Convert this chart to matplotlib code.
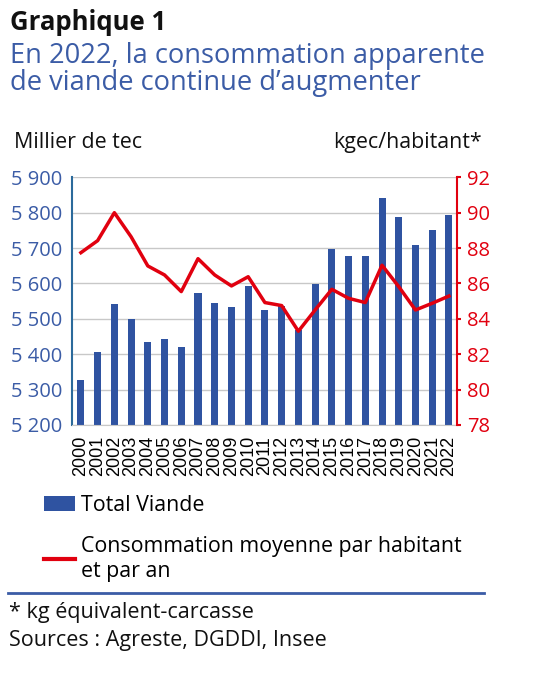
import matplotlib
matplotlib.use('Agg')
import matplotlib.pyplot as plt
from matplotlib.lines import Line2D
from matplotlib.patches import Patch

years = [str(y) for y in range(2000, 2023)]
total_viande = [5327, 5406, 5542, 5500, 5435, 5443, 5421, 5573, 5545, 5534,
                5593, 5525, 5536, 5468, 5599, 5697, 5678, 5678, 5842, 5788,
                5709, 5751, 5794]
conso_hab = [87.74, 88.42, 90.0, 88.64, 86.99, 86.48, 85.54, 87.40, 86.48, 85.86,
             86.38, 84.92, 84.75, 83.3, 84.5, 85.67, 85.16, 84.92, 87.03, 85.82,
             84.5, 84.88, 85.29]
left_ticks = [5200, 5300, 5400, 5500, 5600, 5700, 5800, 5900]
right_ticks = [78, 80, 82, 84, 86, 88, 90, 92]

blue = '#2f53a1'
title_blue = '#3b5ca6'
red = '#e1000f'
font = 'Open Sans'

W, H = 534, 679
fig = plt.figure(figsize=(W / 100, H / 100), dpi=100)

def px(x, y):
    return x / W, 1 - y / H

ax = fig.add_axes([71.7 / W, 1 - 425 / H, (457.3 - 71.7) / W, (425 - 177.3) / H])
x = list(range(len(years)))
ax.bar(x, total_viande, width=0.42, color=blue, zorder=2)
ax.set_ylim(5200, 5900)
ax.set_xlim(-0.55, len(years) - 0.5)
ax.set_yticks(left_ticks)
ax.set_yticklabels([f'{v // 1000} {v % 1000:03d}' for v in left_ticks],
                   fontsize=14.5, color=title_blue, family=font)
ax.tick_params(axis='y', length=0, pad=7)
ax.set_xticks(x)
ax.set_xticklabels(years, rotation=90, fontsize=13, family='Liberation Sans', color='black')
ax.tick_params(axis='x', length=0, pad=8)
ax.yaxis.grid(True, color='#c8c8c8', linewidth=1, zorder=0)
ax.set_axisbelow(True)
for s in ['top', 'right']:
    ax.spines[s].set_visible(False)
ax.spines['left'].set_color('#2b6a9b')
ax.spines['left'].set_linewidth(1.5)
ax.spines['bottom'].set_color('#c8c8c8')

ax2 = ax.twinx()
ax2.plot(x, conso_hab, color=red, linewidth=2.5, zorder=3)
ax2.set_ylim(78, 92)
ax2.set_yticks(right_ticks)
ax2.set_yticklabels([str(v) for v in right_ticks], fontsize=14.5, color=red, family=font)
ax2.tick_params(axis='y', length=3, color=red, pad=4, width=1.5)
for s in ['top', 'left', 'bottom']:
    ax2.spines[s].set_visible(False)
ax2.spines['right'].set_color(red)
ax2.spines['right'].set_linewidth(1.5)

# titres
fig.text(*px(10, 30), 'Graphique 1', fontsize=18.5, fontweight='bold', family=font,
         color='#111111', va='baseline')
fig.text(*px(10, 63), 'En 2022, la consommation apparente', fontsize=19.6,
         family=font, color=title_blue, va='baseline')
fig.text(*px(10, 90), 'de viande continue d\u2019augmenter', fontsize=19.6,
         family=font, color=title_blue, va='baseline')
fig.text(*px(14, 148), 'Millier de tec', fontsize=15.4, family=font,
         color='#111111', va='baseline')
fig.text(*px(482, 148), 'kgec/habitant*', fontsize=15.4, family=font,
         color='#111111', va='baseline', ha='right')

# legende
handles = [Patch(facecolor=blue, edgecolor='none'),
           Line2D([0], [0], color=red, linewidth=3)]
labels = ['Total Viande', 'Consommation moyenne par habitant\net par an']
fig.legend(handles, labels, loc='upper left', bbox_to_anchor=px(44, 495),
           frameon=False, prop={'family': font, 'size': 15.4},
           handlelength=1.45, handleheight=0.7, handletextpad=0.3,
           labelspacing=0.95, borderaxespad=0, borderpad=0)

fig.add_artist(Line2D([8 / W, 484 / W], [1 - 593 / H] * 2, color='#3b5ca6',
                      linewidth=2, transform=fig.transFigure))
fig.text(*px(9, 618), '* kg \u00e9quivalent-carcasse', fontsize=15.5, family=font,
         color='#111111', va='baseline')
fig.text(*px(9, 646), 'Sources : Agreste, DGDDI, Insee', fontsize=15.5, family=font,
         color='#111111', va='baseline')

fig.savefig('out.png', dpi=100)
